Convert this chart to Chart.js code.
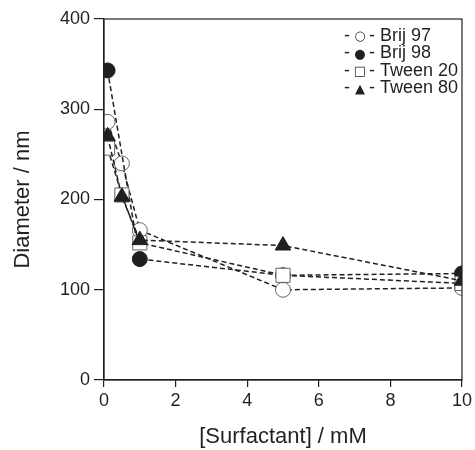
<!DOCTYPE html>
<html>
<head>
<meta charset="utf-8">
<script src="https://cdn.jsdelivr.net/npm/chart.js@4"></script>
<style>
  html, body { margin: 0; padding: 0; background: #fff; }
  #wrap { width: 475px; height: 450px; }
</style>
</head>
<body>
<div id="wrap"><canvas id="chart"></canvas></div>
<script>
const LABELS = ['Brij 97', 'Brij 98', 'Tween 20', 'Tween 80'];
const LEGEND_MARKS = ['\u25CB', '\u25CF', '\u25A1', '\u25B2'];
const CONC = [0.1, 0.5, 1, 5, 10];
const BRIJ97 = [286, 240, 166, 100, 102];
const BRIJ98 = [343, null, 134, 116, 118];
const TWEEN20 = [257, 205, 152, 116, 107];
const TWEEN80 = [270, 203, 155, 149, 110];
const INK = '#231f20';
const FONT = '"Liberation Sans", Arial, sans-serif';

const pts = ys => CONC.map((x, i) => ({ x, y: ys[i] }));

function series(label, ys, style, filled, radius, order) {
    return {
        label, data: pts(ys), order,
        borderColor: INK, borderWidth: 1.5, borderDash: [5, 3],
        pointStyle: style, pointRadius: radius, pointHoverRadius: radius,
        pointBackgroundColor: filled ? INK : '#fff',
        pointBorderColor: filled ? INK : '#666',
        pointBorderWidth: 1,
        fill: false, tension: 0, spanGaps: true
    };
}

const framePlugin = {
    id: 'frame',
    afterDraw(chart) {
        const { ctx, chartArea: a } = chart;
        ctx.save();
        ctx.strokeStyle = INK; ctx.lineWidth = 1.2;
        ctx.strokeRect(a.left, a.top, a.right - a.left, a.bottom - a.top);
        // legend
        ctx.fillStyle = INK;
        ctx.textBaseline = 'middle';
        LABELS.forEach((lab, i) => {
            const y = 36 + i * 17.5;
            ctx.textAlign = 'left';
            ctx.font = '18px ' + FONT;
            ctx.fillText('-', 344, y);
            ctx.fillText('-', 369, y);
            ctx.font = '13px "DejaVu Sans", sans-serif';
            ctx.textAlign = 'center';
            ctx.fillText(LEGEND_MARKS[i], 360, y + 1);
            ctx.textAlign = 'left';
            ctx.font = '18px ' + FONT;
            ctx.fillText(lab, 380, y);
        });
        ctx.restore();
    }
};

new Chart(document.getElementById('chart'), {
    type: 'line',
    data: {
        datasets: [
            series(LABELS[0], BRIJ97, 'circle', false, 7.5, 3),
            series(LABELS[1], BRIJ98, 'circle', true, 7.5, 2),
            series(LABELS[2], TWEEN20, 'rect', false, 10, 1),
            series(LABELS[3], TWEEN80, 'triangle', true, 9, 0)
        ]
    },
    options: {
        responsive: true, maintainAspectRatio: false, animation: false,
        layout: { padding: { top: 19, right: 10, left: 0, bottom: 0 } },
        plugins: { legend: { display: false }, tooltip: { enabled: false } },
        scales: {
            x: {
                type: 'linear', min: 0, max: 10,
                afterFit: s => { s.height = 70; },
                border: { color: INK, width: 1.2 },
                grid: { drawOnChartArea: false, tickLength: 7, color: INK, lineWidth: 1.2 },
                ticks: { stepSize: 2, padding: 3, color: INK, font: { family: FONT, size: 18 } },
                title: { display: true, text: '[Surfactant] / mM', color: INK, padding: { top: 0, bottom: 0 },
                         font: { family: FONT, size: 22 } }
            },
            y: {
                min: 0, max: 400,
                afterFit: s => { s.width = 104; },
                border: { color: INK, width: 1.2 },
                grid: { drawOnChartArea: false, tickLength: 10, color: INK, lineWidth: 1.2 },
                ticks: { stepSize: 100, padding: 4, color: INK, font: { family: FONT, size: 18 } },
                title: { display: true, text: 'Diameter / nm', color: INK, padding: { top: 10, bottom: 0 },
                         font: { family: FONT, size: 22 } }
            }
        }
    },
    plugins: [framePlugin]
});
</script>
</body>
</html>
